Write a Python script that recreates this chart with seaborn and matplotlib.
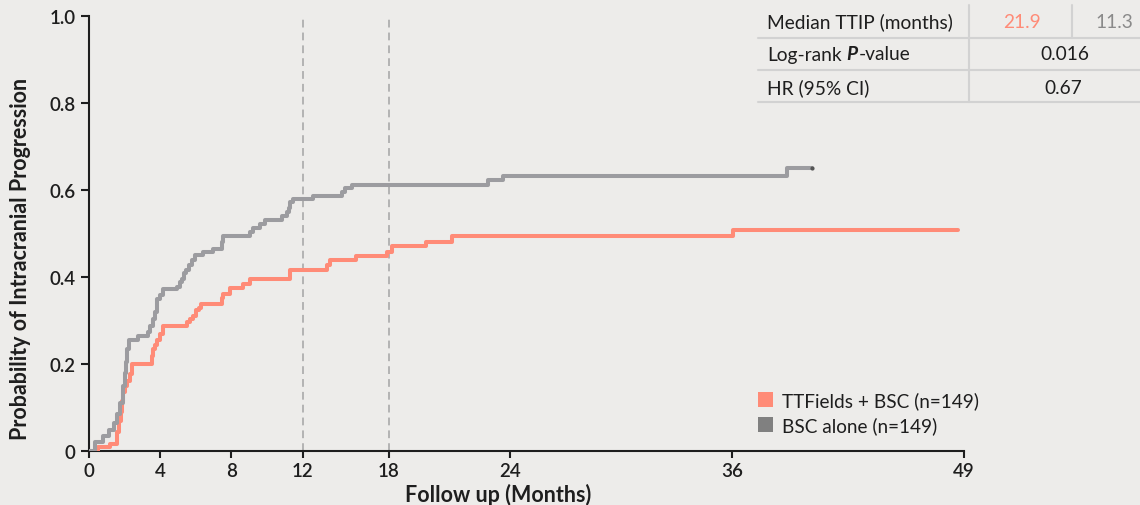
import numpy as np
import pandas as pd
import matplotlib
matplotlib.use("Agg")
import matplotlib.pyplot as plt
from matplotlib.patches import Patch
from matplotlib.lines import Line2D
import seaborn as sns

# ---------------- data ----------------
arms = ["TTFields + BSC (n=149)", "BSC alone (n=149)"]

ttf_months = [0, 0.5, 1.18, 1.56, 1.68, 1.77, 1.85, 1.93, 2.02, 2.12, 2.30, 2.41, 3.52, 3.61, 3.71,
              3.80, 3.99, 4.15, 5.49, 5.67, 5.86, 6.01, 6.18, 6.29, 7.45, 7.54, 7.92, 8.66, 9.04,
              11.29, 13.67, 13.9, 15.74, 17.84, 18.13, 19.82, 21.11, 36.07, 48.7]
ttf_prob = [0, 0.009, 0.017, 0.044, 0.07, 0.09, 0.115, 0.136, 0.15, 0.162, 0.178, 0.201, 0.22, 0.235,
            0.245, 0.255, 0.27, 0.288, 0.297, 0.305, 0.312, 0.324, 0.33, 0.339, 0.352, 0.362, 0.375,
            0.385, 0.397, 0.416, 0.429, 0.439, 0.449, 0.459, 0.471, 0.482, 0.494, 0.509, 0.509]

bsc_months = [0, 0.35, 0.8, 1.1, 1.4, 1.6, 1.75, 1.9, 2.0, 2.08, 2.15, 2.22, 2.77, 3.33, 3.42, 3.61,
              3.7, 3.83, 3.99, 4.17, 4.92, 5.11, 5.2, 5.33, 5.45, 5.61, 5.77, 5.95, 6.42, 6.98, 7.45,
              7.52, 9.04, 9.22, 9.6, 9.88, 10.82, 11.1, 11.23, 11.31, 11.43, 12.74, 14.7, 14.93, 15.4,
              22.92, 23.67, 39.07, 40.5]
bsc_prob = [0, 0.022, 0.036, 0.05, 0.065, 0.085, 0.11, 0.15, 0.18, 0.205, 0.235, 0.257, 0.266, 0.274,
            0.289, 0.305, 0.32, 0.35, 0.36, 0.372, 0.377, 0.39, 0.397, 0.41, 0.416, 0.428, 0.439,
            0.452, 0.458, 0.466, 0.482, 0.495, 0.504, 0.513, 0.523, 0.531, 0.541, 0.55, 0.56, 0.573,
            0.579, 0.588, 0.596, 0.605, 0.613, 0.623, 0.633, 0.652, 0.652]

x_ticks = [0, 4, 8, 12, 18, 24, 36, 49]
y_ticks = [0, 0.2, 0.4, 0.6, 0.8, 1.0]
y_ticklabels = ["0", "0.2", "0.4", "0.6", "0.8", "1.0"]
landmarks = [12, 18]

table_rows = ["Median TTIP (months)", "Log-rank ", "HR (95% CI)"]
median_ttip = ["21.9", "11.3"]
pvalue = "0.016"
hr = "0.67"

# ---------------- style ----------------
BG = "#EDECEA"
RED = "#FF8B77"
GRAY = "#9C9CA0"
GRAY_PATCH = "#808080"
DARK = "#1e1e1e"

sns.set_theme(style="ticks")
plt.rcParams["font.family"] = ["Lato", "DejaVu Sans"]
plt.rcParams["axes.facecolor"] = BG
plt.rcParams["figure.facecolor"] = BG

W, H = 1140, 506
fig = plt.figure(figsize=(W / 100, H / 100), dpi=100)


def fx(x):
    return x / W


def fy(y):
    return 1 - y / H


ax_l, ax_r, ax_t, ax_b = 89, 963.7, 17.3, 452.3
ax = fig.add_axes([fx(ax_l), fy(ax_b), (ax_r - ax_l) / W, (ax_b - ax_t) / H])
ax.set_facecolor(BG)

# piecewise axis scale reproducing the uneven tick spacing of the original
_m = np.array([-49, 0, 12, 18, 24, 36, 49, 98], dtype=float)
_u = np.array([-874.7, 0, 213.7, 300, 421, 643, 874.7, 1749.4], dtype=float)


def _fwd(v):
    return np.interp(v, _m, _u)


def _inv(v):
    return np.interp(v, _u, _m)


ax.set_xscale("function", functions=(_fwd, _inv))

df = pd.concat([
    pd.DataFrame({"months": ttf_months, "prob": ttf_prob, "arm": arms[0]}),
    pd.DataFrame({"months": bsc_months, "prob": bsc_prob, "arm": arms[1]}),
])

for lm in landmarks:
    ax.axvline(lm, color="#B3B3B3", lw=1.4, linestyle=(0, (4, 2.6)), zorder=1)

sns.lineplot(data=df, x="months", y="prob", hue="arm", palette={arms[0]: RED, arms[1]: GRAY},
             estimator=None, sort=False, drawstyle="steps-post", lw=2.9, legend=False, ax=ax,
             zorder=3)
ax.plot([bsc_months[-1]], [bsc_prob[-1]], "o", ms=2, color="#555555", zorder=4)

ax.set_xlim(0, 49)
ax.set_ylim(0, 1.0)
ax.set_xticks(x_ticks)
ax.set_xticklabels([str(t) for t in x_ticks])
ax.set_yticks(y_ticks)
ax.set_yticklabels(y_ticklabels)
ax.xaxis.set_minor_locator(matplotlib.ticker.NullLocator())

for s in ["top", "right"]:
    ax.spines[s].set_visible(False)
for s in ["left", "bottom"]:
    ax.spines[s].set_linewidth(1.5)
    ax.spines[s].set_color(DARK)

ax.tick_params(axis="y", length=5.8, width=1.5, color=DARK, pad=4.0, labelsize=13.5, labelcolor=DARK)
ax.tick_params(axis="x", length=5.0, width=1.5, color=DARK, pad=3.0, labelsize=13.5, labelcolor=DARK)
for lab in ax.get_xticklabels() + ax.get_yticklabels():
    lab.set_fontweight("semibold")

ax.set_ylabel("Probability of Intracranial Progression", fontsize=15.5, fontweight="bold", color=DARK)
ax.yaxis.label.set(ha="center", va="center", rotation_mode="anchor")
ax.yaxis.set_label_coords((20 - ax_l) / (ax_r - ax_l), (ax_b - 258.5) / (ax_b - ax_t))

ax.set_xlabel("Follow up (Months)", fontsize=15.5, fontweight="bold", color=DARK)
ax.xaxis.label.set(ha="center", va="baseline")
ax.xaxis.set_label_coords((498 - ax_l) / (ax_r - ax_l), -(502 - ax_b) / (ax_b - ax_t))

# legend
handles = [Patch(facecolor=RED, edgecolor="none"), Patch(facecolor=GRAY_PATCH, edgecolor="none")]
fig.legend(handles, arms, loc="upper left", bbox_to_anchor=(fx(758), fy(392)),
           bbox_transform=fig.transFigure, frameon=False, fontsize=13.7,
           handlelength=0.8, handleheight=0.8, handletextpad=0.45, labelspacing=0.38,
           borderpad=0, borderaxespad=0, labelcolor=DARK)

# table
LINE = "#D2D2D2"
for yy in [39, 71, 103]:
    fig.add_artist(Line2D([fx(758), fx(1140)], [fy(yy), fy(yy)], color=LINE, lw=1.5))
fig.add_artist(Line2D([fx(969), fx(969)], [fy(6), fy(103)], color=LINE, lw=1.5))
fig.add_artist(Line2D([fx(1072), fx(1072)], [fy(6), fy(39)], color=LINE, lw=1.5))

TFS = 13.8
fig.text(fx(767), fy(22), table_rows[0], fontsize=TFS, color=DARK, va="center", ha="left")
fig.text(fx(1022), fy(22), median_ttip[0], fontsize=TFS, color=RED, va="center", ha="center")
fig.text(fx(1114), fy(22), median_ttip[1], fontsize=TFS, color="#8A8A8A", va="center", ha="center")
t1 = fig.text(fx(767), fy(55), table_rows[1].strip(), fontsize=TFS, color=DARK, va="center", ha="left")
renderer = fig.canvas.get_renderer()
bb = t1.get_window_extent(renderer)
t2 = fig.text(fx(bb.x1 + 5), fy(55), "P", fontsize=TFS, color=DARK, va="center", ha="left",
              fontweight="bold", fontstyle="italic")
bb2 = t2.get_window_extent(renderer)
fig.text(fx(bb2.x1 + 0.5), fy(55), "-value", fontsize=TFS, color=DARK, va="center", ha="left")
fig.text(fx(1065), fy(55), pvalue, fontsize=TFS, color=DARK, va="center", ha="center")
fig.text(fx(767), fy(88), table_rows[2], fontsize=TFS, color=DARK, va="center", ha="left")
fig.text(fx(1063), fy(88), hr, fontsize=TFS, color=DARK, va="center", ha="center")

fig.savefig("out.png", dpi=100, facecolor=BG)
